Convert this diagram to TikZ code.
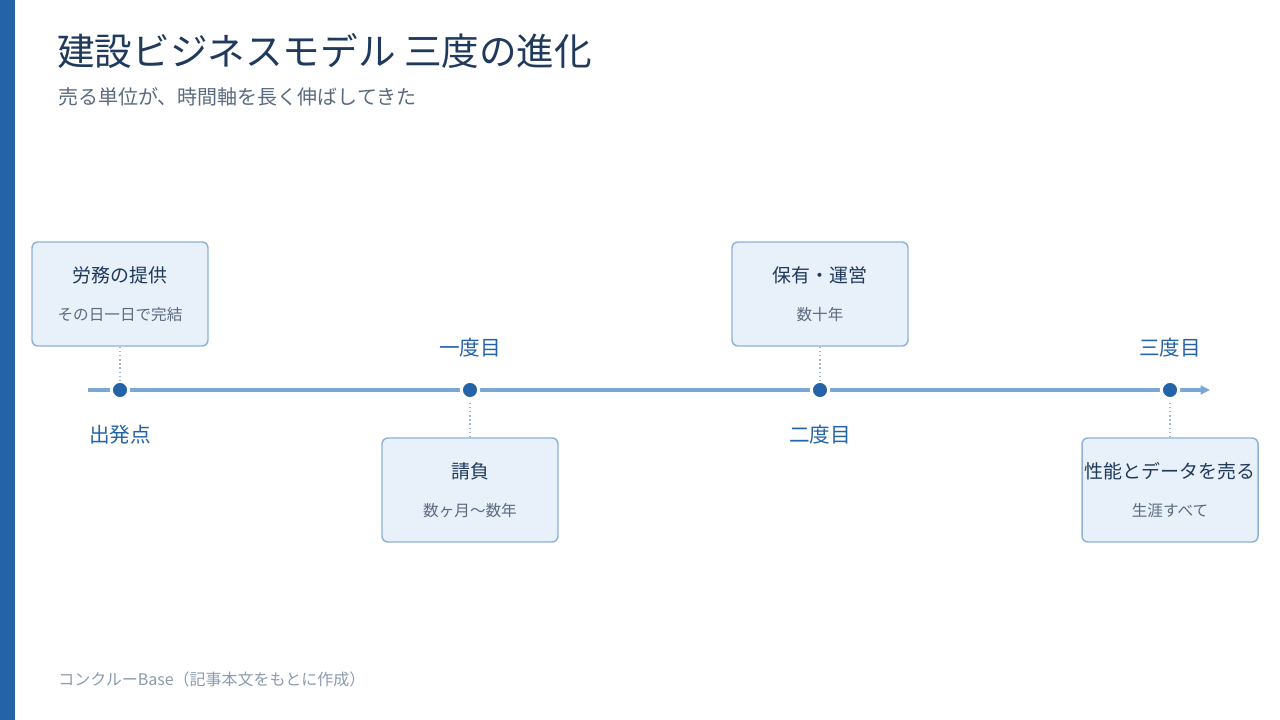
\documentclass[tikz,border=0pt]{standalone}
\usepackage{fontspec}
\setmainfont{Noto Sans CJK JP}
\usetikzlibrary{positioning,arrows.meta}
\definecolor{accent}{HTML}{2563A8}
\definecolor{navy}{HTML}{1F3A5C}
\definecolor{slate}{HTML}{5B6B7F}
\definecolor{boxfill}{HTML}{E8F0F9}
\definecolor{boxline}{HTML}{8DB1DA}
\definecolor{axis}{HTML}{7BA7D5}
\definecolor{tick}{HTML}{A3B5C8}
\definecolor{note}{HTML}{8C9BB0}
\tikzset{
  stage/.style={draw=boxline, fill=boxfill, line width=1.1pt, rounded corners=4.5pt,
    minimum width=132pt, minimum height=78pt, inner sep=0pt},
  stagetitle/.style={text=navy, font=\fontsize{14.2}{16}\selectfont, inner sep=0pt},
  stagesub/.style={text=slate, font=\fontsize{11.7}{13}\selectfont, inner sep=0pt},
  milestone/.style={circle, fill=accent, draw=white, line width=2.25pt,
    minimum size=13pt, inner sep=0pt},
  era/.style={text=accent, font=\fontsize{15.5}{18}\selectfont, inner sep=0pt},
  link/.style={draw=tick, line width=1.1pt, dotted}
}
\begin{document}
\begin{tikzpicture}[x=0.75pt, y=-0.75pt]
\useasboundingbox (0,0) rectangle (1280,720);
\fill[white] (0,0) rectangle (1280,720);
\fill[accent] (0,0) rectangle (15,720);
\node[anchor=base west, text=navy, font=\fontsize{28.2}{33}\selectfont, inner sep=0pt]
  (title) at (57,66) {建設ビジネスモデル 三度の進化};
\node[anchor=base west, text=slate, font=\fontsize{15}{18}\selectfont, inner sep=0pt]
  (subtitle) at (58,105) {売る単位が、時間軸を長く伸ばしてきた};
\coordinate (start) at (88,390);
\coordinate (end) at (1210,390);
\draw[axis, line width=2.6pt, -{Triangle[length=7pt,width=6.5pt]}] (start) -- (end);
\foreach \i/\x/\by/\ly/\main/\sub/\lab in {
  1/120/294/435/労務の提供/その日一日で完結/出発点,
  2/470/490/348/請負/数ヶ月〜数年/一度目,
  3/820/294/435/保有・運営/数十年/二度目,
  4/1170/490/348/性能とデータを売る/生涯すべて/三度目} {
  \node[stage] (b\i) at (\x,\by) {};
  \node[stagetitle] (b\i t) at (\x,\by-19) {\main};
  \node[stagesub] (b\i s) at (\x,\by+21) {\sub};
  \node[milestone] (d\i) at (\x,390) {};
  \node[era] (e\i) at (\x,\ly) {\lab};
  \draw[link] (b\i) -- (d\i);
}
\node[anchor=base west, text=note, font=\fontsize{12}{14}\selectfont, inner sep=0pt]
  (source) at (58,685) {コンクルーBase（記事本文をもとに作成）};
\end{tikzpicture}
\end{document}
